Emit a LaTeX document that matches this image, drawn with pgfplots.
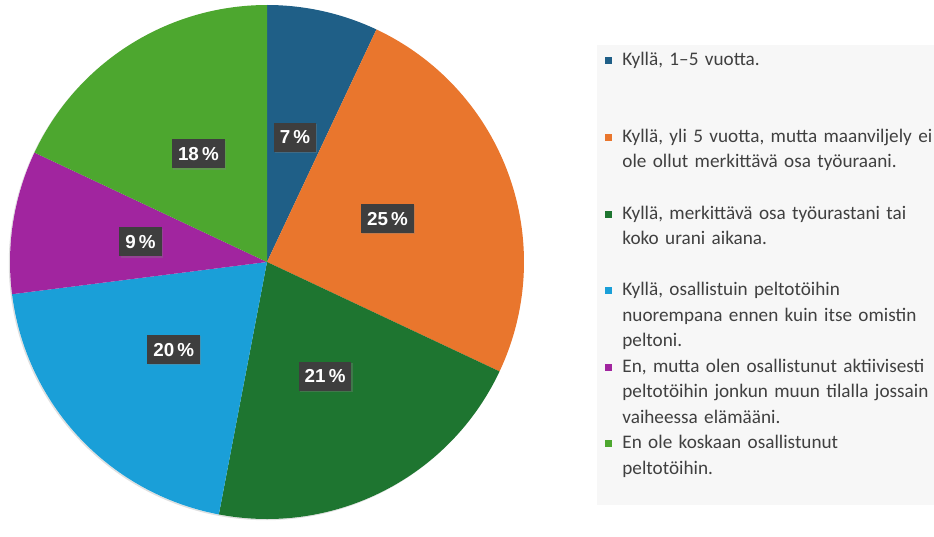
\documentclass[border=0pt]{standalone}
\usepackage{pgfplots}
\usepackage{pgfplotstable}
\usepackage{fontspec}
\setmainfont{Carlito}
\newfontfamily\labfont{Liberation Sans}
\pgfplotsset{compat=1.18}
\usetikzlibrary{shadows}

\definecolor{pie0}{HTML}{1F5F87}
\definecolor{pie1}{HTML}{E9762D}
\definecolor{pie2}{HTML}{1E7530}
\definecolor{pie3}{HTML}{1A9FD8}
\definecolor{pie4}{HTML}{A1259F}
\definecolor{pie5}{HTML}{4DA72F}
\definecolor{labbg}{HTML}{3E3E3E}
\definecolor{legbg}{HTML}{F7F7F7}
\definecolor{legtext}{HTML}{404040}

\pgfplotstableread{
pct
7
25
21
20
9
18
}\piedata

% slice angles, clockwise from 12 o'clock
\def\cum{0}
\pgfplotsforeachungrouped \i in {0,...,5}{%
  \pgfplotstablegetelem{\i}{pct}\of\piedata
  \let\p\pgfplotsretval
  \pgfmathsetmacro\sa{90-3.6*\cum}%
  \pgfmathsetmacro\ea{90-3.6*(\cum+\p)}%
  \pgfmathsetmacro\ma{(\sa+\ea)/2}%
  \expandafter\xdef\csname sa\i\endcsname{\sa}%
  \expandafter\xdef\csname ea\i\endcsname{\ea}%
  \expandafter\xdef\csname ma\i\endcsname{\ma}%
  \expandafter\xdef\csname pv\i\endcsname{\p}%
  \pgfmathsetmacro\cum{\cum+\p}%
  \xdef\cum{\cum}%
}

\newcommand\legentry[2]{%
  \fill[pie#1] (axis cs:604.5,{520-57.5-76.6*#1}) rectangle (axis cs:611.5,{520-64.5-76.6*#1});
  \node[overlay, anchor=base west, text width=170pt, align=left, inner sep=0pt,
        text=legtext, font=\fontsize{9.6}{12.7}\selectfont]
    at (axis cs:622,{520-66-76.6*#1}) {#2};
}

\begin{document}
\begin{tikzpicture}
\begin{axis}[
    width=467pt, height=260pt, scale only axis,
    xmin=0, xmax=934, ymin=0, ymax=520,
    hide axis, clip=false
]
\path (axis cs:0,0) rectangle (axis cs:934,520);
% pie
\path[fill=white, drop shadow={shadow xshift=-0.6pt, shadow yshift=-0.6pt, opacity=0.25}]
  (axis cs:267,258) circle[radius=128.5pt];
\pgfplotsinvokeforeach{0,...,5}{
  \fill[pie#1] (axis cs:267,258) -- ++(\csname sa#1\endcsname:128.5pt)
    arc[start angle=\csname sa#1\endcsname, end angle=\csname ea#1\endcsname, radius=128.5pt] -- cycle;
}
\pgfplotsinvokeforeach{0,...,5}{
  \path (axis cs:267,258) ++(\csname ma#1\endcsname:64pt)
    node[fill=labbg, text=white, inner xsep=3pt, inner ysep=0pt, minimum height=14.5pt,
         font=\labfont\bfseries\fontsize{9.4}{10}\selectfont,
         drop shadow={shadow xshift=0.6pt, shadow yshift=-0.6pt, opacity=0.35}]
    {\csname pv#1\endcsname\,\%};
}
% legend
\fill[legbg] (axis cs:597,15) rectangle (axis cs:934,475);
\legentry{0}{Kyllä, 1–5 vuotta.}
\legentry{1}{Kyllä, yli 5 vuotta, mutta maanviljely ei\\ole ollut merkittävä osa työuraani.}
\legentry{2}{Kyllä, merkittävä osa työurastani tai\\koko urani aikana.}
\legentry{3}{Kyllä, osallistuin peltotöihin\\nuorempana ennen kuin itse omistin\\peltoni.}
\legentry{4}{En, mutta olen osallistunut aktiivisesti\\peltotöihin jonkun muun tilalla jossain\\vaiheessa elämääni.}
\legentry{5}{En ole koskaan osallistunut\\peltotöihin.}
\end{axis}
\end{tikzpicture}
\end{document}
